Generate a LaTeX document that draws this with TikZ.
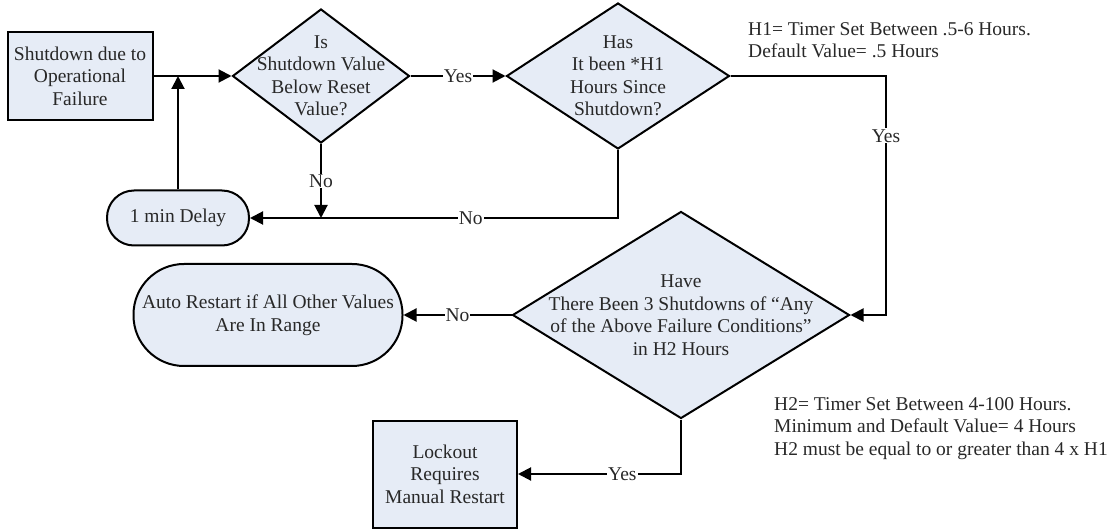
\documentclass[tikz,border=0pt]{standalone}
\usepackage{fontspec}
\setmainfont{Liberation Serif}
\usetikzlibrary{shapes.geometric,arrows.meta}
\definecolor{boxfill}{RGB}{230,236,246}
\definecolor{ink}{RGB}{40,40,40}

\begin{document}
\begin{tikzpicture}[x=1pt,y=-1pt,
  font=\fontsize{19.5}{22.5}\selectfont,
  every node/.style={text=ink},
  procbox/.style={rectangle, draw=black, line width=2pt, fill=boxfill,
    align=center, inner sep=2pt},
  decision/.style={diamond, draw=black, line width=2pt, fill=boxfill,
    inner sep=0pt},
  flow/.style={line width=2pt, -{Triangle[length=13pt,width=13pt]}},
  tag/.style={fill=white, inner sep=1pt},
  note/.style={anchor=north west, align=left, inner sep=0pt}]

\useasboundingbox (0,0) rectangle (1117,529);

% process boxes and terminals
\node[procbox, minimum width=145pt, minimum height=88pt] (start) at (80,76)
  {Shutdown due to\\Operational\\Failure};
\node[procbox, rounded corners=27pt, minimum width=142pt, minimum height=55pt]
  (delay) at (178,218) {1 min Delay};
\node[procbox, rounded corners=50.5pt, minimum width=269pt, minimum height=102pt]
  (auto) at (268,315) {Auto Restart if All Other Values\\Are In Range};
\node[procbox, minimum width=144pt, minimum height=107pt] (lock) at (445,474)
  {Lockout\\Requires\\Manual Restart};

% decisions
\node[decision, minimum width=177pt, minimum height=134pt] (d1) at (321,76) {};
\node[align=center] (d1txt) at (d1) {Is\\Shutdown Value\\Below Reset\\Value?};
\node[decision, minimum width=223pt, minimum height=146pt] (d2) at (618,76) {};
\node[align=center] (d2txt) at (d2) {Has\\It been *H1\\Hours Since\\Shutdown?};
\node[decision, minimum width=337pt, minimum height=207pt] (d3) at (681,315) {};
\node[align=center] (d3txt) at (d3)
  {Have\\There Been 3 Shutdowns of “Any\\of the Above Failure Conditions”\\in H2 Hours};

% timer notes
\node[note] (h1note) at (748,22)
  {H1= Timer Set Between .5-6 Hours.\\Default Value= .5 Hours};
\node[note] (h2note) at (774,397)
  {H2= Timer Set Between 4-100 Hours.\\Minimum and Default Value= 4 Hours\\H2 must be equal to or greater than 4 x H1};

% connectors
\coordinate (turn) at (886,76);
\draw[flow] (start.east) -- (d1.west);
\draw[flow] (delay.north) -- (delay.north |- start.east);
\draw[flow] (d1.east) -- node[tag] {Yes} (d2.west);
\draw[flow] (d1.south) -- node[tag] {No} (d1.south |- delay.east);
\draw[flow] (d2.south) |- node[tag, pos=0.7] {No} (delay.east);
\draw[flow] (d2.east) -- (turn) |- node[tag, pos=0.125] {Yes} (d3.east);
\draw[flow] (d3.west) -- node[tag] {No} (auto.east);
\draw[flow] (d3.south) |- node[tag, pos=0.68] {Yes} (lock.east);

\end{tikzpicture}
\end{document}
